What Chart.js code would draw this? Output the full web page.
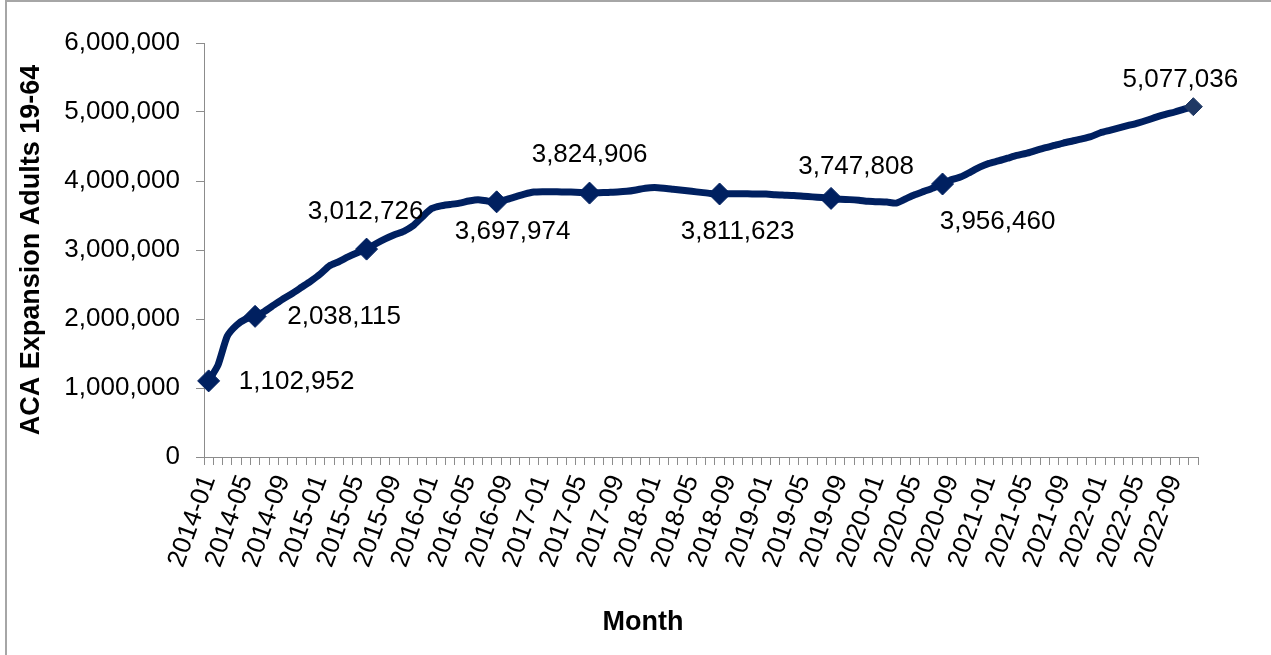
<!DOCTYPE html>
<html>
<head>
<meta charset="utf-8">
<script src="https://cdn.jsdelivr.net/npm/chart.js@4.4.1/dist/chart.umd.min.js"></script>
<style>
  html, body { margin: 0; padding: 0; background: #fff; }
  #wrap { position: relative; width: 1271px; height: 655px; overflow: hidden; }
  #frame { position: absolute; left: 5px; top: 0px; width: 1400px; height: 800px;
           border-top: 2px solid #a6a6a6; border-left: 2px solid #a6a6a6; }
  canvas { position: absolute; left: 0; top: 0; }
</style>
</head>
<body>
<div id="wrap">
  <div id="frame"></div>
  <canvas id="acaChart" width="1271" height="655"></canvas>
</div>
<script>
// months on the category axis
var months = [
  '2014-01','2014-02','2014-03','2014-04','2014-05','2014-06','2014-07','2014-08','2014-09','2014-10','2014-11','2014-12',
  '2015-01','2015-02','2015-03','2015-04','2015-05','2015-06','2015-07','2015-08','2015-09','2015-10','2015-11','2015-12',
  '2016-01','2016-02','2016-03','2016-04','2016-05','2016-06','2016-07','2016-08','2016-09','2016-10','2016-11','2016-12',
  '2017-01','2017-02','2017-03','2017-04','2017-05','2017-06','2017-07','2017-08','2017-09','2017-10','2017-11','2017-12',
  '2018-01','2018-02','2018-03','2018-04','2018-05','2018-06','2018-07','2018-08','2018-09','2018-10','2018-11','2018-12',
  '2019-01','2019-02','2019-03','2019-04','2019-05','2019-06','2019-07','2019-08','2019-09','2019-10','2019-11','2019-12',
  '2020-01','2020-02','2020-03','2020-04','2020-05','2020-06','2020-07','2020-08','2020-09','2020-10','2020-11','2020-12',
  '2021-01','2021-02','2021-03','2021-04','2021-05','2021-06','2021-07','2021-08','2021-09','2021-10','2021-11','2021-12',
  '2022-01','2022-02','2022-03','2022-04','2022-05','2022-06','2022-07','2022-08','2022-09','2022-10','2022-11'
];

// ACA expansion adults 19-64, one value per month
var enrollment = [
  1102952, 1330000, 1750000, 1910000, 2000000, 2038115, 2110000, 2200000, 2290000, 2370000, 2460000, 2550000,
  2650000, 2770000, 2830000, 2900000, 2960000, 3012726, 3090000, 3160000, 3220000, 3270000, 3350000, 3480000,
  3600000, 3640000, 3660000, 3680000, 3710000, 3730000, 3710000, 3697974, 3730000, 3770000, 3810000, 3840000,
  3845000, 3845000, 3840000, 3840000, 3835000, 3824906, 3830000, 3835000, 3840000, 3850000, 3870000, 3895000,
  3905000, 3895000, 3880000, 3865000, 3850000, 3835000, 3820000, 3811623, 3815000, 3815000, 3815000, 3810000,
  3810000, 3800000, 3795000, 3790000, 3780000, 3770000, 3760000, 3747808, 3735000, 3730000, 3720000, 3705000,
  3700000, 3695000, 3680000, 3740000, 3800000, 3850000, 3900000, 3956460, 4020000, 4060000, 4130000, 4200000,
  4255000, 4290000, 4330000, 4370000, 4400000, 4440000, 4480000, 4515000, 4550000, 4580000, 4610000, 4645000,
  4700000, 4735000, 4770000, 4805000, 4840000, 4880000, 4925000, 4965000, 5000000, 5040000, 5077036
];

// months that carry a marker and a value label
var markedMonths = ['2014-01','2014-06','2015-06','2016-08','2017-06','2018-08','2019-08','2020-08','2022-11'];

var yTicks = [0, 1000000, 2000000, 3000000, 4000000, 5000000, 6000000];

var navy = '#002060';
var fontFam = "'Liberation Sans', Arial, sans-serif";
var lastIdx = enrollment.length - 1;

function isMarked(i) {
  return markedMonths.indexOf(months[i]) >= 0;
}

// where each value label sits relative to its marker (label centre offset)
var labelShift = {
  '2014-01': [88, 1],
  '2014-06': [89, 0],
  '2015-06': [-1, -37],
  '2016-08': [16, 30],
  '2017-06': [0, -38],
  '2018-08': [18, 38],
  '2019-08': [25, -32],
  '2020-08': [55, 38],
  '2022-11': [-13, -27]
};

var valueLabels = {
  id: 'valueLabels',
  afterDatasetsDraw: function(chart) {
    var ctx = chart.ctx;
    var meta = chart.getDatasetMeta(0);
    ctx.save();
    ctx.font = '26px ' + fontFam;
    ctx.fillStyle = '#000';
    ctx.textAlign = 'center';
    ctx.textBaseline = 'middle';
    markedMonths.forEach(function(m) {
      var i = months.indexOf(m);
      var pt = meta.data[i];
      var sh = labelShift[m];
      ctx.fillText(enrollment[i].toLocaleString('en-US'), pt.x + sh[0], pt.y + sh[1]);
    });
    ctx.restore();
  }
};

var monthTitle = {
  id: 'monthTitle',
  afterDraw: function(chart) {
    var ctx = chart.ctx;
    ctx.save();
    ctx.font = 'bold 27px ' + fontFam;
    ctx.fillStyle = '#000';
    ctx.textAlign = 'center';
    ctx.textBaseline = 'middle';
    ctx.fillText('Month', 643, 623);
    ctx.restore();
  }
};

var ctx = document.getElementById('acaChart');
var myChart = new Chart(ctx, {
  type: 'line',
  data: {
    labels: months,
    datasets: [{
      label: 'ACA Expansion Adults 19-64',
      data: enrollment,
      borderColor: navy,
      backgroundColor: navy,
      borderWidth: 7,
      tension: 0.2,
      fill: false,
      pointStyle: 'rectRot',
      pointRadius: function(c) {
        if (!isMarked(c.dataIndex)) return 0;
        return c.dataIndex === lastIdx ? 9 : 11;
      },
      pointBackgroundColor: function(c) {
        return c.dataIndex === lastIdx ? '#1f3864' : navy;
      },
      pointBorderColor: function(c) {
        return c.dataIndex === lastIdx ? '#1f3864' : navy;
      },
      pointBorderWidth: 1
    }]
  },
  options: {
    responsive: false,
    animation: false,
    layout: { padding: { left: 10, top: 43, right: 73, bottom: 0 } },
    plugins: {
      legend: { display: false },
      tooltip: { enabled: false }
    },
    scales: {
      x: {
        type: 'category',
        offset: true,
        afterFit: function(s) { s.height = 198; },
        grid: {
          offset: true,
          drawOnChartArea: false,
          tickLength: 8,
          color: '#8c8c8c'
        },
        border: { color: '#8c8c8c', width: 1 },
        ticks: {
          autoSkip: false,
          maxRotation: 70,
          minRotation: 70,
          padding: 6,
          color: '#000',
          font: { family: fontFam, size: 26 },
          callback: function(v, i) { return i % 4 === 0 ? months[i] : ''; }
        }
      },
      y: {
        min: 0,
        max: 6000000,
        afterFit: function(s) { s.width = 194; },
        afterBuildTicks: function(s) { s.ticks = yTicks.map(function(v) { return { value: v }; }); },
        grid: {
          drawOnChartArea: false,
          tickLength: 8,
          color: '#8c8c8c'
        },
        border: { color: '#8c8c8c', width: 1 },
        ticks: {
          padding: 16,
          color: '#000',
          font: { family: fontFam, size: 26 },
          callback: function(v) { return Number(v).toLocaleString('en-US'); }
        },
        title: {
          display: true,
          text: 'ACA Expansion Adults 19-64',
          color: '#000',
          padding: { top: 5, bottom: 0 },
          font: { family: fontFam, size: 27, weight: 'bold' }
        }
      }
    }
  },
  plugins: [valueLabels, monthTitle]
});
</script>
</body>
</html>
